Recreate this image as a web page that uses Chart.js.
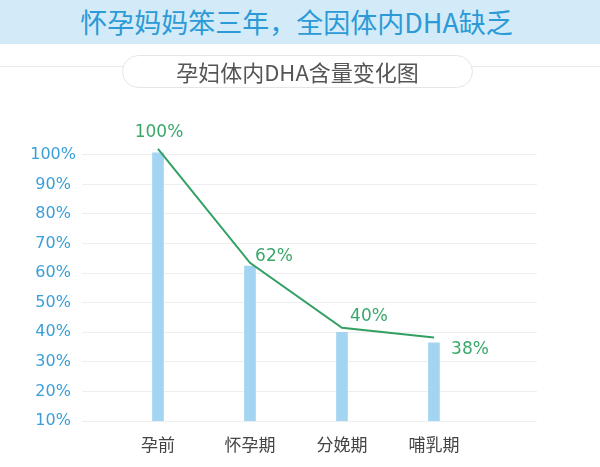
<!DOCTYPE html>
<html lang="zh-CN">
<head>
<meta charset="utf-8">
<title>孕妇体内DHA含量变化图</title>
<script src="https://cdn.jsdelivr.net/npm/chart.js@4.4.1/dist/chart.umd.min.js"></script>
<style>
    html, body {
        margin: 0;
        padding: 0;
        background: #ffffff;
    }

    #pagina {
        position: relative;
        width: 600px;
        height: 467px;
        overflow: hidden;
        font-family: "Noto Sans CJK SC", "Noto Sans", sans-serif;
    }

    #faixa-titulo {
        position: absolute;
        top: 0;
        left: 0;
        width: 600px;
        height: 44px;
        background: #d3ebf8;
        color: #2c9ad7;
        font-size: 27px;
        line-height: 43px;
        text-align: center;
        text-indent: -7px;
        z-index: 2;
    }

    #linha-subtitulo {
        position: absolute;
        top: 66px;
        left: 0;
        width: 600px;
        height: 1px;
        background: #e6eaec;
        z-index: 1;
    }

    #subtitulo {
        position: absolute;
        top: 55px;
        left: 122px;
        width: 349px;
        height: 31px;
        border: 1.5px solid #e2e6e9;
        border-radius: 17px;
        background: #ffffff;
        color: #555555;
        font-size: 22px;
        line-height: 31px;
        text-align: center;
        z-index: 2;
    }

    #grafico {
        position: absolute;
        top: 0;
        left: 0;
        z-index: 0;
    }
</style>
</head>
<body>
<div id="pagina">
    <div id="faixa-titulo">怀孕妈妈笨三年，全因体内DHA缺乏</div>
    <div id="linha-subtitulo"></div>
    <div id="subtitulo">孕妇体内DHA含量变化图</div>
    <canvas id="grafico" width="600" height="467"></canvas>
</div>

<script>
const categorias = ['孕前', '怀孕期', '分娩期', '哺乳期'];
const valoresBarras = [100.7, 62.4, 40, 36.4];
const valoresLinha = [102, 63.5, 41.5, 38.2];
const rotulosLinha = ['100%', '62%', '40%', '38%'];
const ticksEixoY = [10, 20, 30, 40, 50, 60, 70, 80, 90, 100];

// deslocamento de cada rotulo em relacao ao ponto da linha
const deslocamentosRotulos = [[1, -16], [24, -6], [27, -11], [36, 12]];

const pluginRotulos = {
    id: 'rotulosLinha',
    afterDatasetsDraw(grafico) {
        const meta = grafico.getDatasetMeta(1);
        const ctx = grafico.ctx;

        ctx.save();
        ctx.font = '17px "DejaVu Sans"';
        ctx.fillStyle = '#3aa86a';
        ctx.textAlign = 'center';
        ctx.textBaseline = 'middle';

        meta.data.forEach((ponto, i) => {
            const [dx, dy] = deslocamentosRotulos[i];
            ctx.fillText(rotulosLinha[i], ponto.x + dx, ponto.y + dy);
        });

        ctx.restore();
    }
};

function montarPontos(valores) {
    return valores.map((valor, i) => ({ x: i, y: valor }));
}

function criarGrafico() {
    const contexto = document.getElementById('grafico');

    new Chart(contexto, {
        type: 'bar',
        data: {
            datasets: [{
                label: 'DHA',
                data: montarPontos(valoresBarras),
                backgroundColor: '#a3d5f2',
                barThickness: 11,
                order: 1
            }, {
                type: 'line',
                label: 'DHA',
                data: montarPontos(valoresLinha),
                borderColor: '#32a063',
                borderWidth: 2,
                pointRadius: 0,
                tension: 0,
                fill: false,
                order: 0
            }]
        },
        options: {
            responsive: false,
            animation: false,
            layout: {
                padding: {
                    top: 143,
                    right: 63,
                    bottom: 0,
                    left: 0
                }
            },
            plugins: {
                legend: {
                    display: false
                },
                tooltip: {
                    enabled: false
                }
            },
            scales: {
                x: {
                    type: 'linear',
                    offset: false,
                    min: -0.826,
                    max: 4.12,
                    afterFit(eixo) {
                        eixo.height = 46;
                    },
                    afterBuildTicks(eixo) {
                        eixo.ticks = categorias.map((nome, i) => ({ value: i }));
                    },
                    grid: {
                        display: false,
                        drawTicks: false
                    },
                    border: {
                        display: false
                    },
                    ticks: {
                        autoSkip: false,
                        maxRotation: 0,
                        padding: 13,
                        color: '#444444',
                        font: {
                            family: '"Noto Sans CJK SC"',
                            size: 17
                        },
                        callback(valor) {
                            return categorias[valor] || '';
                        }
                    }
                },
                y: {
                    min: 10,
                    max: 104,
                    afterFit(eixo) {
                        eixo.width = 82;
                    },
                    afterBuildTicks(eixo) {
                        eixo.ticks = ticksEixoY.map(valor => ({ value: valor }));
                    },
                    grid: {
                        color: '#eceef0',
                        lineWidth: 1,
                        drawTicks: false
                    },
                    border: {
                        display: false
                    },
                    ticks: {
                        crossAlign: 'center',
                        padding: 6,
                        color: '#3a9fd8',
                        font: {
                            family: '"DejaVu Sans"',
                            size: 16
                        },
                        callback(valor) {
                            return `${valor}%`;
                        }
                    }
                }
            }
        },
        plugins: [pluginRotulos]
    });
}

criarGrafico();
</script>
</body>
</html>
